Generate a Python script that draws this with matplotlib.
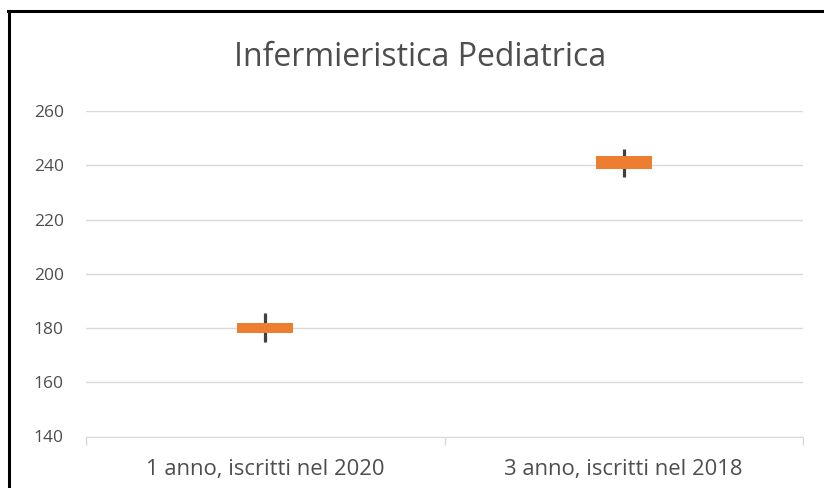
import numpy as np
import matplotlib.pyplot as plt
from matplotlib.lines import Line2D

# data (high-low-open-close style)
categories = ["1 anno, iscritti nel 2020", "3 anno, iscritti nel 2018"]
low = [175, 235.5]
high = [185.5, 246]
q_low = [178, 238.5]
q_high = [182, 243.5]
yticks = [140, 160, 180, 200, 220, 240, 260]

plt.rcParams['font.family'] = ['Open Sans', 'DejaVu Sans']
txt = '#4d4d4d'

fig = plt.figure(figsize=(8.24, 4.88), dpi=100)
W, H = 824, 488
ax = fig.add_axes([86 / W, (H - 436.5) / H, (803 - 86) / W, (436.5 - 111) / H])

x = np.arange(len(categories))
ax.vlines(x, low, high, color='#404040', lw=2.3, zorder=2)
ax.bar(x, np.array(q_high) - np.array(q_low), bottom=q_low, width=0.156,
       color='#ED7D31', zorder=3)

ax.set_xlim(-0.5, 1.5)
ax.set_ylim(140, 260)
ax.set_yticks(yticks)
ax.set_xticks(x)
ax.set_xticklabels(categories)
ax.set_xticks([-0.5, 0.5, 1.5], minor=True)
ax.grid(axis='y', color='#d9d9d9', lw=1)
ax.set_axisbelow(True)
for s in ['top', 'right', 'left']:
    ax.spines[s].set_visible(False)
ax.spines['bottom'].set_color('#d9d9d9')
ax.tick_params(axis='y', length=0, pad=16, labelsize=12.5, labelcolor=txt)
ax.tick_params(axis='x', which='major', length=0, pad=16, labelsize=15.8, labelcolor=txt)
ax.tick_params(axis='x', which='minor', length=6, color='#d9d9d9', width=1)

fig.text(420 / W, 1 - 58 / H, "Infermieristica Pediatrica", ha='center', va='center',
         fontsize=23, color=txt)

# outer frame (left and top only, the rest is cropped)
fig.add_artist(Line2D([9 / W, 9 / W], [0, 1 - 10.5 / H], color='black', lw=2.2,
                      transform=fig.transFigure))
fig.add_artist(Line2D([8 / W, 1], [1 - 10.5 / H, 1 - 10.5 / H], color='black', lw=2.2,
                      transform=fig.transFigure))

fig.savefig('out.png', dpi=100)
